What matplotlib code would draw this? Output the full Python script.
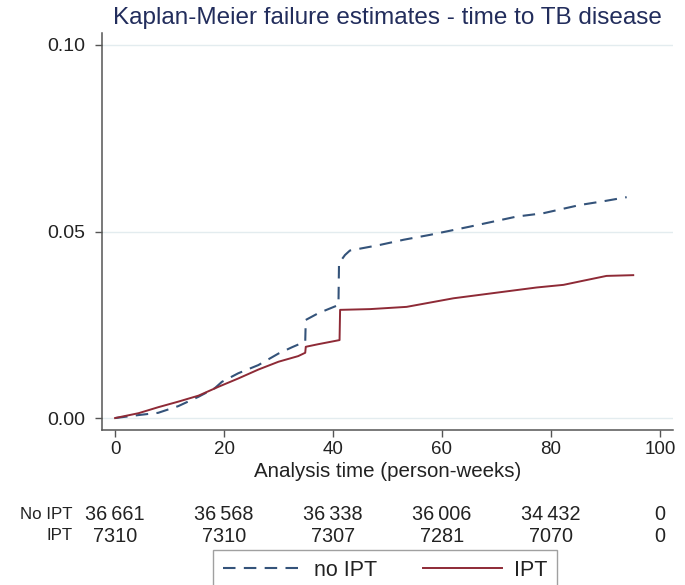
import matplotlib
matplotlib.use("Agg")
import matplotlib.pyplot as plt
import matplotlib.transforms as mtransforms

plt.rcParams['font.family'] = ['Liberation Sans', 'DejaVu Sans']

# Kaplan-Meier failure estimates
no_ipt_t = [0, 4.3, 7.9, 11.6, 15.3, 18.3, 19.6, 22.6, 26.3, 30.0, 32.5, 34.9, 35.0,
            37.3, 41.0, 41.1, 42.2, 43.1, 48.6, 53.0, 57.8, 65.1, 73.7, 78.6, 85.3, 90.0, 93.9]
no_ipt_f = [0, 0.0008, 0.0014, 0.0032, 0.0057, 0.0080, 0.0097, 0.0120, 0.0142, 0.0173, 0.0190,
            0.0205, 0.0263, 0.0281, 0.0303, 0.0415, 0.0437, 0.0449, 0.0464, 0.0478, 0.0491,
            0.0513, 0.0540, 0.0549, 0.0571, 0.0582, 0.0592]

ipt_t = [0, 4.3, 7.9, 11.6, 15.3, 19.0, 22.6, 26.3, 30.0, 33.6, 34.9, 35.0, 37.3, 41.2, 41.3,
         46.8, 53.5, 62.1, 70.0, 77.4, 82.3, 85.9, 90.2, 95.1]
ipt_f = [0, 0.0013, 0.0029, 0.0044, 0.0060, 0.0084, 0.0106, 0.0130, 0.0151, 0.0166, 0.0175,
         0.0191, 0.0198, 0.0209, 0.0290, 0.0292, 0.0298, 0.0321, 0.0336, 0.0350, 0.0357,
         0.0368, 0.0381, 0.0383]

# numbers at risk
risk_times = [0, 20, 40, 60, 80, 100]
risk_no_ipt = ['36\u2009661', '36\u2009568', '36\u2009338', '36\u2009006', '34\u2009432', '0']
risk_ipt = ['7310', '7310', '7307', '7281', '7070', '0']

navy = '#34537a'
maroon = '#8e2a36'
axcol = '#555555'
txtcol = '#222222'

fig = plt.figure(figsize=(6.85, 5.85), dpi=100)
W, H = 685.0, 585.0
ax = fig.add_axes([102 / W, 1 - 430 / H, (673 - 102) / W, (430 - 33) / H])

ax.plot(no_ipt_t, no_ipt_f, color=navy, lw=1.5, dashes=(6, 4), label='no IPT')
ax.plot(ipt_t, ipt_f, color=maroon, lw=1.4, label='IPT')

ax.set_xlim(-2.4, 102.4)
ax.set_ylim(-0.0032, 0.1032)
ax.set_xticks(risk_times)
ax.set_yticks([0, 0.05, 0.10])
ax.set_yticklabels(['0.00', '0.05', '0.10'])
for y in [0, 0.05, 0.10]:
    ax.axhline(y, color='#e3ecef', lw=1.0, zorder=0)

for s in ['top', 'right']:
    ax.spines[s].set_visible(False)
for s in ['left', 'bottom']:
    ax.spines[s].set_color(axcol)
    ax.spines[s].set_linewidth(1.1)
ax.tick_params(axis='both', colors=axcol, length=5, width=1.0, labelsize=14,
               labelcolor=txtcol)
ax.tick_params(axis='x', pad=3, labelsize=13.5)
ax.tick_params(axis='y', pad=7)

ax.set_xlabel('Analysis time (person-weeks)', fontsize=14.8, color=txtcol)
ax.xaxis.set_label_coords(0.5, -0.08)

fig.text((102 + 673) / 2 / W, 1 - 18 / H, 'Kaplan-Meier failure estimates - time to TB disease',
         ha='center', va='center', fontsize=17.5, color='#222d5c')

# risk table
tr = mtransforms.blended_transform_factory(ax.transData, fig.transFigure)
row1 = 1 - 514.5 / H
row2 = 1 - 536 / H
fig.text(73 / W, row1, 'No IPT', ha='right', va='center', fontsize=12.2, color=txtcol)
fig.text(73 / W, row2, 'IPT', ha='right', va='center', fontsize=12.2, color=txtcol)
for t, a, b in zip(risk_times, risk_no_ipt, risk_ipt):
    ax.text(t, row1, a, transform=tr, ha='center', va='center', fontsize=14.3, color=txtcol)
    ax.text(t, row2, b, transform=tr, ha='center', va='center', fontsize=14.3, color=txtcol)

leg = fig.legend(loc='upper left', bbox_to_anchor=(213 / W, 1 - 550 / H), ncol=2,
                 fontsize=15.5, handlelength=3.7, handletextpad=0.55, columnspacing=2.1,
                 borderpad=0.45, borderaxespad=0, fancybox=False, frameon=True)
leg.get_frame().set_edgecolor('#888888')
leg.get_frame().set_linewidth(1.0)
for t in leg.get_texts():
    t.set_color(txtcol)

fig.savefig('out.png', dpi=100)
